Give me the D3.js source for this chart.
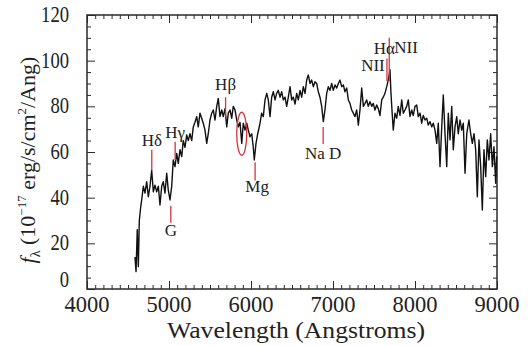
<!DOCTYPE html>
<html>
<head>
<meta charset="utf-8">
<script src="https://cdn.jsdelivr.net/npm/d3@7/dist/d3.min.js"></script>
<style>
  html, body { margin: 0; padding: 0; background: #fff; }
  svg { display: block; }
  text { font-family: "Liberation Serif", "DejaVu Serif", serif; fill: #222; }
</style>
</head>
<body>
<svg id="chart" width="531" height="346"></svg>
<script>
// Observed spectrum: wavelength (Angstrom) and flux (1e-17 erg/s/cm^2/Ang)
const wavelength = [
  4585,4598,4613,4626,4638,4655,4667,4687,4707,4728,4748,4768,4789,4809,4829,4850,4870,4890,4911,4930,
  4951,4972,4991,5012,5033,5052,5073,5094,5113,5134,5155,5174,5195,5216,5235,5256,5277,5296,5317,5338,
  5357,5378,5399,5418,5439,5460,5479,5500,5521,5540,5561,5582,5601,5622,5643,5662,5683,5704,5723,5744,
  5765,5784,5805,5826,5845,5866,5887,5906,5927,5948,5967,5988,6009,6028,6040,6061,6082,6110,6130,6150,
  6171,6192,6211,6232,6252,6272,6293,6313,6333,6354,6374,6394,6415,6435,6455,6476,6496,6516,6537,6557,
  6577,6598,6618,6638,6659,6679,6699,6720,6740,6760,6780,6801,6821,6841,6862,6882,6902,6923,6943,6963,
  6984,7004,7024,7045,7065,7085,7106,7126,7146,7167,7187,7207,7228,7248,7268,7289,7309,7329,7350,7370,
  7390,7411,7430,7451,7472,7491,7512,7533,7552,7573,7594,7613,7634,7655,7674,7695,7707,7719,7735,7756,
  7777,7796,7817,7838,7857,7878,7899,7918,7939,7960,7979,8000,8021,8040,8061,8082,8101,8122,8143,8162,
  8183,8204,8223,8244,8265,8284,8305,8326,8345,8366,8387,8406,8427,8448,8467,8488,8509,8528,8549,8570,
  8589,8610,8631,8658,8679,8699,8720,8740,8760,8780,8801,8821,8841,8862,8882,8902,8923,8943,8963,8984,
  8996
];
const flux = [
  14,7.6,26,9.8,30,36,39,45,42,47,40.4,45,52,42.6,45.5,42.6,45,36.8,45,47,
  42,50.7,43.4,39,45,56.5,53.6,59.4,55,61,58,65,62,67.5,65,68,65,71,73,75.5,
  71,77,74.8,72.6,69.6,63.8,68,74,77,78.4,74,80,83.5,75.5,78.4,75.5,79,71,77,78.4,
  74.8,80,78.4,74,71,73,63.8,72.6,69.6,72.6,69.6,66.7,68,62,56.5,63.8,68,72.6,77,75.5,
  82.8,85.7,82.8,75.5,84,86.4,82.8,85.7,87,84,86.4,82.8,84,80,84,88.6,82.8,84,81,85.7,
  82.8,87,84,88.6,85.7,91.5,93.7,90,91.5,88.6,90.8,90,86.4,84,80,73.3,78.4,85.7,88.6,87,
  90,87,89.4,88,90,91.5,88.6,89.4,86.4,88,82.8,81.3,78.4,77,75.5,78.4,71.8,78.4,88,80,
  81.3,82.8,80,82,80,81.3,78.4,80.6,79,76,82.8,84,85.7,88.6,91.5,96,85.7,78.4,69.6,77,
  74.8,80,76,82.8,77,78.4,80,82.8,75.5,78.4,76,80,80.6,75.5,77,72.6,76,74,74.8,71.8,
  73.3,71,72.6,69.6,63.8,72.6,53.6,71,85,68,53.6,77,65.3,80,61,71,75.5,68,74,69.6,
  72.6,50.7,68,74,68,63.8,68,61,40.4,65.3,53.6,34.6,61,49.2,65.3,56.5,68,53.6,62.3,46.3,
  58
];

// Spectral features: marker wavelength, tick top/bottom flux, label and its placement
const lineNames   = ["H\u03b4", "G", "H\u03b3", "H\u03b2", "Mg", "Na D", "NII", "H\u03b1"];
const lineWave    = [4790, 5022, 5075, 5690, 6050, 6880, 7658, 7686];
const lineTop     = [61, 36.5, 64.5, 84, 55.5, 71, 101, 110];
const lineBottom  = [52, 29, 56.5, 75.5, 47.5, 63.5, 91, 91];
const labelFlux   = [62.5, 23, 66, 87, 42.5, 57, 95.3, 103];
const labelShift  = [0, 0, 0, 0, 2, 0, -14, -5];

const xTicks = [4000, 5000, 6000, 7000, 8000, 9000];
const yTicks = [0, 20, 40, 60, 80, 100, 120];

const svg = d3.select("#chart");
const m = { left: 87, right: 497, top: 15, bottom: 289 };

const x = d3.scaleLinear().domain([4000, 9000]).range([m.left, m.right]);
const y = d3.scaleLinear().domain([0, 120]).range([m.bottom, m.top]);

const ink = "#2a2a2a";
const red = "#d6323e";

// Inward tick marks on all four sides
const xMinor = d3.range(4000, 9001, 100).filter(v => v % 1000 !== 0);
const yMinor = d3.range(0, 121, 5).filter(v => v % 20 !== 0);

function tickSide(axisFn, scale, minor, major, transform) {
  const gMin = svg.append("g").attr("transform", transform)
    .call(axisFn(scale).tickValues(minor).tickSize(-4).tickFormat(""));
  const gMaj = svg.append("g").attr("transform", transform)
    .call(axisFn(scale).tickValues(major).tickSize(-8).tickFormat(""));
  [gMin, gMaj].forEach(g => {
    g.select(".domain").remove();
    g.selectAll("line").attr("stroke", ink).attr("stroke-width", 1);
  });
}
tickSide(d3.axisBottom, x, xMinor, xTicks, `translate(0,${m.bottom})`);
tickSide(d3.axisTop, x, xMinor, xTicks, `translate(0,${m.top})`);
tickSide(d3.axisLeft, y, yMinor, yTicks, `translate(${m.left},0)`);
tickSide(d3.axisRight, y, yMinor, yTicks, `translate(${m.right},0)`);

// Frame
svg.append("rect")
  .attr("x", m.left).attr("y", m.top)
  .attr("width", m.right - m.left).attr("height", m.bottom - m.top)
  .attr("fill", "none").attr("stroke", ink).attr("stroke-width", 1.5);

// Tick labels
svg.append("g").selectAll("text").data(xTicks).join("text")
  .attr("x", d => x(d)).attr("y", 312)
  .attr("text-anchor", "middle").attr("font-size", 22.5)
  .text(d => d);

svg.append("g").selectAll("text").data(yTicks).join("text")
  .attr("x", 69).attr("y", d => y(d) + (d === 0 ? -2 : 7))
  .attr("text-anchor", "end").attr("font-size", 22.5)
  .attr("textLength", d => String(d).length * 9.3)
  .attr("lengthAdjust", "spacingAndGlyphs")
  .text(d => d);

// Axis titles
svg.append("text")
  .attr("x", 296).attr("y", 338)
  .attr("text-anchor", "middle").attr("font-size", 23)
  .attr("textLength", 258).attr("lengthAdjust", "spacingAndGlyphs")
  .text("Wavelength (Angstroms)");

const yt = svg.append("text")
  .attr("transform", "translate(35,160) rotate(-90)")
  .attr("text-anchor", "middle").attr("font-size", 22);
yt.append("tspan").attr("font-style", "italic").text("f");
yt.append("tspan").attr("font-size", 14).attr("dy", 5).text("\u03bb");
yt.append("tspan").attr("dy", -5).text(" (10");
yt.append("tspan").attr("font-size", 13).attr("dy", -9).text("\u221217");
yt.append("tspan").attr("dy", 9).text(" erg/s/cm");
yt.append("tspan").attr("font-size", 13).attr("dy", -9).text("2");
yt.append("tspan").attr("dy", 9).text("/Ang)");

// Spectrum
const pts = wavelength.map((w, i) => [w, flux[i]]);
svg.append("path")
  .datum(pts)
  .attr("d", d3.line().x(d => x(d[0])).y(d => y(d[1])))
  .attr("fill", "none").attr("stroke", "#111").attr("stroke-width", 1.4)
  .attr("stroke-linejoin", "round");

// Feature markers and labels
const feat = svg.append("g");
lineNames.forEach((name, i) => {
  feat.append("line")
    .attr("x1", x(lineWave[i])).attr("x2", x(lineWave[i]))
    .attr("y1", y(lineTop[i])).attr("y2", y(lineBottom[i]))
    .attr("stroke", red).attr("stroke-width", 1.3);
  feat.append("text")
    .attr("x", x(lineWave[i]) + labelShift[i]).attr("y", y(labelFlux[i]))
    .attr("text-anchor", "middle").attr("font-size", 17)
    .text(name);
});
// Second NII label to the right of H-alpha
feat.append("text")
  .attr("x", x(7686) + 5).attr("y", y(103.5))
  .attr("text-anchor", "start").attr("font-size", 17)
  .text("NII");

// Ellipse around the absorption trough near 5890 A
svg.append("ellipse")
  .attr("cx", x(5887)).attr("cy", y(68))
  .attr("rx", 5).attr("ry", 21.5)
  .attr("fill", "none").attr("stroke", red).attr("stroke-width", 1.3);
</script>
</body>
</html>
